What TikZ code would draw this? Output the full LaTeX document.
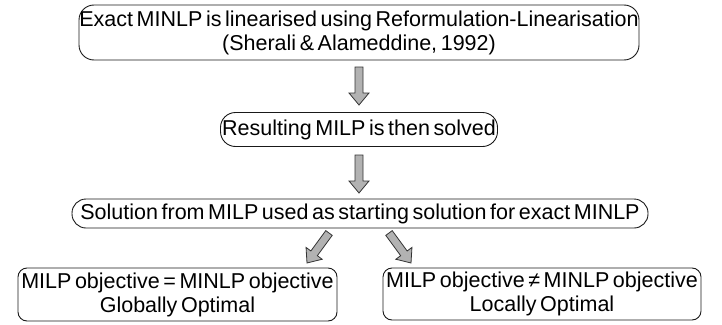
\documentclass[tikz,border=0pt]{standalone}
\usepackage{fontspec}
\setmainfont{Liberation Sans}[WordSpace=0.6]
\usetikzlibrary{calc}
\tikzset{
  box/.style={draw=black!90, line width=0.9pt, align=center, inner sep=0pt,
    font=\fontsize{21.5}{24}\selectfont},
  barrow/.style={draw=black!80, line width=0.8pt, fill=black!30, line join=miter},
}
\newcommand\blockarrow[2]{%
  \coordinate (#1h) at ($(#2)!12pt!(#1)$);
  \draw[barrow] ($(#1)!4pt!90:(#2)$) -- ($(#1h)!4pt!-90:(#1)$) -- ($(#1h)!10pt!-90:(#1)$)
    -- (#2) -- ($(#1h)!10pt!90:(#1)$) -- ($(#1h)!4pt!90:(#1)$) -- ($(#1)!4pt!-90:(#2)$) -- cycle;}
\begin{document}
\begin{tikzpicture}[x=1pt,y=-1pt]
\useasboundingbox (0,0) rectangle (722,324);
\node[box, rounded corners=15pt, minimum width=560pt, minimum height=55pt] (b1) at (359,32.5)
  {Exact MINLP is linearised using Reformulation-Linearisation\\(Sherali \& Alameddine, 1992)};
\node[box, rounded corners=15pt, minimum width=277pt, minimum height=34pt] (b2) at (359,129.5)
  {Resulting MILP is then solved};
\node[box, rounded corners=14pt, minimum width=576pt, minimum height=29pt] (b3) at (360,213.5)
  {Solution from MILP used as starting solution for exact MINLP};
\node[box, rounded corners=9pt, minimum width=319pt, minimum height=53pt] (b4) at (177.5,294.5)
  {MILP objective = MINLP objective\\Globally Optimal};
\node[box, rounded corners=9pt, minimum width=318pt, minimum height=52pt] (b5) at (542,294)
  {MILP objective ≠ MINLP objective\\Locally Optimal};
\coordinate (a1s) at (359,67);
\coordinate (a1e) at (359,105);
\coordinate (a2s) at (359,155);
\coordinate (a2e) at (359,193);
\coordinate (a3s) at (329,233);
\coordinate (a3e) at (307,263);
\coordinate (a4s) at (389,233);
\coordinate (a4e) at (411,263);
\blockarrow{a1s}{a1e}
\blockarrow{a2s}{a2e}
\blockarrow{a3s}{a3e}
\blockarrow{a4s}{a4e}
\end{tikzpicture}
\end{document}
